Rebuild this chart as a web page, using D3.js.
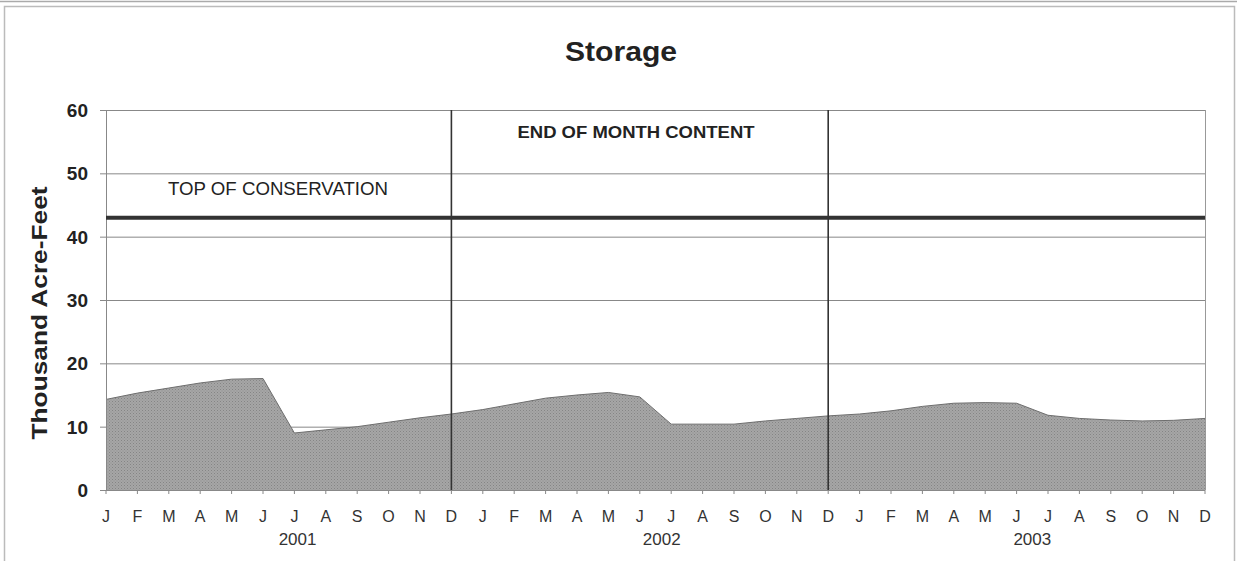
<!DOCTYPE html>
<html>
  <head>
    <meta charset="UTF-8">
    <title>Storage</title>
    <script src="https://d3js.org/d3.v7.min.js"></script>
    <style>
      body { margin: 0; background: #fff; }
      text { font-family: "Liberation Sans", Arial, sans-serif; fill: #222; }
      .grid line { stroke: #888; stroke-width: 1; }
    </style>
  </head>
  <body>
    <div id="chart"></div>
<script>
  // month labels, one per end-of-month point (Jan 2001 .. Dec 2003)
  var months = ["J","F","M","A","M","J","J","A","S","O","N","D"];
  var years = ["2001", "2002", "2003"];
  // end of month content, thousand acre-feet
  var storage2001 = [14.3, 15.3, 16.1, 16.9, 17.5, 17.6, 9.0, 9.5, 10.0, 10.7, 11.4, 12.0];
  var storage2002 = [12.7, 13.6, 14.5, 15.0, 15.4, 14.7, 10.4, 10.4, 10.4, 10.9, 11.3, 11.7];
  var storage2003 = [12.0, 12.5, 13.2, 13.7, 13.8, 13.7, 11.8, 11.3, 11.05, 10.9, 11.0, 11.3];
  var yTicks = [0, 10, 20, 30, 40, 50, 60];
  var topOfConservation = 43;

  var data = [];
  [storage2001, storage2002, storage2003].forEach(function(arr, yi) {
    arr.forEach(function(v, mi) {
      data.push({ i: yi * 12 + mi, m: months[mi], year: years[yi], value: v });
    });
  });

  var W = 1237, H = 561;
  var margin = {top: 110, right: 32, bottom: 71, left: 106},
      width = W - margin.left - margin.right,
      height = H - margin.top - margin.bottom;

  var svg = d3.select("#chart").append("svg")
      .attr("width", W).attr("height", H);

  // outer frame
  svg.append("line").attr("x1", 0).attr("x2", W).attr("y1", 1.5).attr("y2", 1.5)
    .attr("stroke", "#aaa").attr("stroke-width", 1.5);
  svg.append("rect").attr("x", 4.5).attr("y", 6.5).attr("width", 1230).attr("height", 560)
    .attr("fill", "none").attr("stroke", "#bbb").attr("stroke-width", 1.5);

  var g = svg.append("g")
      .attr("transform", "translate(" + margin.left + "," + margin.top + ")");

  var x = d3.scaleLinear().domain([0, 35]).range([0, width]);
  var y = d3.scaleLinear().domain([0, 60]).range([height, 0]);

  // gridlines
  g.append("g").attr("class", "grid")
    .selectAll("line").data(yTicks.filter(function(d) { return d > 0; })).enter()
    .append("line")
      .attr("x1", -6).attr("x2", width)
      .attr("y1", function(d) { return y(d) + 0.5; })
      .attr("y2", function(d) { return y(d) + 0.5; });

  // halftone-ish fill
  var defs = svg.append("defs");
  var pat = defs.append("pattern").attr("id", "dots")
    .attr("width", 3).attr("height", 3).attr("patternUnits", "userSpaceOnUse");
  pat.append("rect").attr("width", 3).attr("height", 3).attr("fill", "#a6a6a6");
  pat.append("rect").attr("width", 1).attr("height", 1).attr("fill", "#858585");
  pat.append("rect").attr("x", 1.5).attr("y", 1.5).attr("width", 1).attr("height", 1).attr("fill", "#8f8f8f");

  var area = d3.area()
      .x(function(d) { return x(d.i); })
      .y0(height)
      .y1(function(d) { return y(d.value); });

  g.append("path").datum(data)
    .attr("fill", "url(#dots)")
    .attr("d", area);
  g.append("path").datum(data)
    .attr("fill", "none")
    .attr("stroke", "#6e6e6e")
    .attr("stroke-width", 1)
    .attr("d", d3.line().x(function(d) { return x(d.i); }).y(function(d) { return y(d.value); }));

  // plot frame
  g.append("line").attr("x1", 0.5).attr("x2", 0.5).attr("y1", 0).attr("y2", height)
    .attr("stroke", "#888");
  g.append("line").attr("x1", width + 0.5).attr("x2", width + 0.5).attr("y1", 0).attr("y2", height)
    .attr("stroke", "#999");
  g.append("line").attr("x1", -6).attr("x2", width).attr("y1", height + 0.5).attr("y2", height + 0.5)
    .attr("stroke", "#888");

  // year separators at December of 2001 and 2002
  g.selectAll(".sep").data([11, 23]).enter()
    .append("line").attr("class", "sep")
      .attr("x1", function(d) { return x(d); }).attr("x2", function(d) { return x(d); })
      .attr("y1", 0).attr("y2", height)
      .attr("stroke", "#333").attr("stroke-width", 1.6);

  // top of conservation line
  g.append("line")
    .attr("x1", 0).attr("x2", width)
    .attr("y1", y(topOfConservation)).attr("y2", y(topOfConservation))
    .attr("stroke", "#333").attr("stroke-width", 4);

  // x ticks and month labels
  g.selectAll(".xt").data(data).enter()
    .append("line").attr("class", "xt")
      .attr("x1", function(d) { return x(d.i); }).attr("x2", function(d) { return x(d.i); })
      .attr("y1", height).attr("y2", height + 4)
      .attr("stroke", "#888");
  g.selectAll(".ml").data(data).enter()
    .append("text").attr("class", "ml")
      .attr("x", function(d) { return x(d.i); })
      .attr("y", height + 32)
      .attr("text-anchor", "middle")
      .style("font-size", "16px").style("fill", "#333")
      .text(function(d) { return d.m; });

  // year labels
  var yearCenter = [6.1, 17.7, 29.5];
  g.selectAll(".yl").data(years).enter()
    .append("text").attr("class", "yl")
      .attr("x", function(d, i) { return x(yearCenter[i]); })
      .attr("y", height + 55)
      .attr("text-anchor", "middle")
      .style("font-size", "17px").style("fill", "#333")
      .text(function(d) { return d; });

  // y tick labels
  g.selectAll(".yt").data(yTicks).enter()
    .append("text").attr("class", "yt")
      .attr("x", -18)
      .attr("y", function(d) { return y(d); })
      .attr("dy", "0.36em")
      .attr("text-anchor", "end")
      .style("font-size", "19px").style("font-weight", "bold").style("fill", "#222")
      .text(function(d) { return d; });

  // axis title
  svg.append("text")
    .attr("transform", "translate(47,313) rotate(-90)")
    .attr("text-anchor", "middle")
    .attr("textLength", 253).attr("lengthAdjust", "spacingAndGlyphs")
    .style("font-size", "22px").style("font-weight", "bold").style("fill", "#222")
    .text("Thousand Acre-Feet");

  // chart title
  svg.append("text")
    .attr("x", 621).attr("y", 61)
    .attr("text-anchor", "middle")
    .attr("textLength", 112).attr("lengthAdjust", "spacingAndGlyphs")
    .style("font-size", "27px").style("font-weight", "bold").style("fill", "#222")
    .text("Storage");

  // annotations
  svg.append("text")
    .attr("x", 168).attr("y", 195)
    .attr("textLength", 220).attr("lengthAdjust", "spacingAndGlyphs")
    .style("font-size", "18px").style("fill", "#222")
    .text("TOP OF CONSERVATION");
  svg.append("text")
    .attr("x", 636).attr("y", 138)
    .attr("text-anchor", "middle")
    .attr("textLength", 237).attr("lengthAdjust", "spacingAndGlyphs")
    .style("font-size", "17px").style("font-weight", "bold").style("fill", "#222")
    .text("END OF MONTH CONTENT");
</script>
  </body>
</html>
